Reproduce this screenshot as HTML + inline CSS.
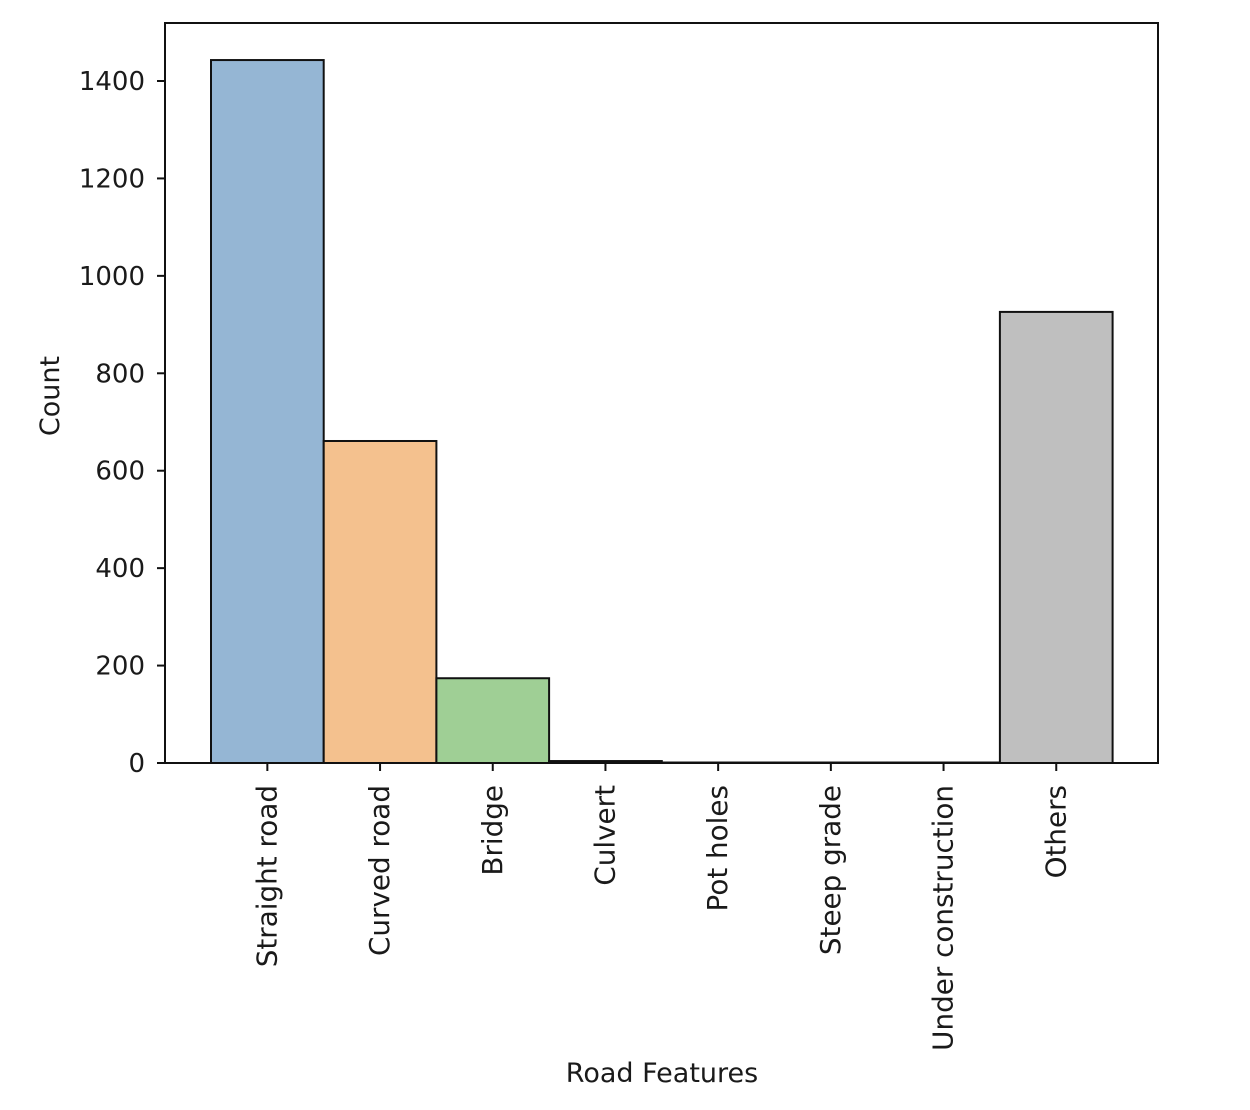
<!DOCTYPE html>
<html><head><meta charset="utf-8"><style>
body{margin:0;background:#fff}
text{font-family:"DejaVu Sans","Liberation Sans",sans-serif;fill:#1a1a1a}
</style></head><body>
<svg id="chart" width="1250" height="1105" xmlns="http://www.w3.org/2000/svg"></svg>
<script>
const categories=["Straight road","Curved road","Bridge","Culvert","Pot holes","Steep grade","Under construction","Others"];
const counts=[1443,661,174,4,1,1,1,926];
const colors=["#95b6d4","#f4c18e","#9fcf95","#e89b9b","#c8b6d9","#c9aaa4","#f3bce0","#bfbfbf"];
const yTicks=[0,200,400,600,800,1000,1200,1400];
const svg=document.getElementById('chart');
const NS='http://www.w3.org/2000/svg';
const L=165,R=1158,T=23,B=763;
const x0=211,bw=112.7;
const y=v=>B-v*(B-81)/1400;
function mk(t,a){const e=document.createElementNS(NS,t);for(const k in a)e.setAttribute(k,a[k]);svg.appendChild(e);return e;}
categories.forEach((c,i)=>{
 const yy=y(counts[i]);
 const r=mk('rect',{x:x0+i*bw,y:yy,width:bw,height:B-yy,fill:colors[i],stroke:'#111','stroke-width':2});
 
 
 const cx=x0+i*bw+bw/2;
 mk('line',{x1:cx,x2:cx,y1:B,y2:B+8,stroke:'#111','stroke-width':2});
 const t=mk('text',{x:0,y:0,'font-size':27.8,'text-anchor':'end',transform:`translate(${cx+9},${B+22}) rotate(-90)`});
 t.textContent=c;
 
 
});
yTicks.forEach(v=>{
 const yy=y(v);
 mk('line',{x1:L-8,x2:L,y1:yy,y2:yy,stroke:'#111','stroke-width':2});
 const t=mk('text',{x:L-20,y:yy+9,'font-size':26,'text-anchor':'end'});
 t.textContent=v;
 
 
});
const f=mk('rect',{x:L,y:T,width:R-L,height:B-T,fill:'none',stroke:'#111','stroke-width':2});


const xl=mk('text',{x:662,y:1082,'font-size':27,'text-anchor':'middle'});
xl.textContent='Road Features';


const yl=mk('text',{x:0,y:0,'font-size':27,'text-anchor':'middle',transform:'translate(59,396) rotate(-90)'});
yl.textContent='Count';


</script>
</body></html>
